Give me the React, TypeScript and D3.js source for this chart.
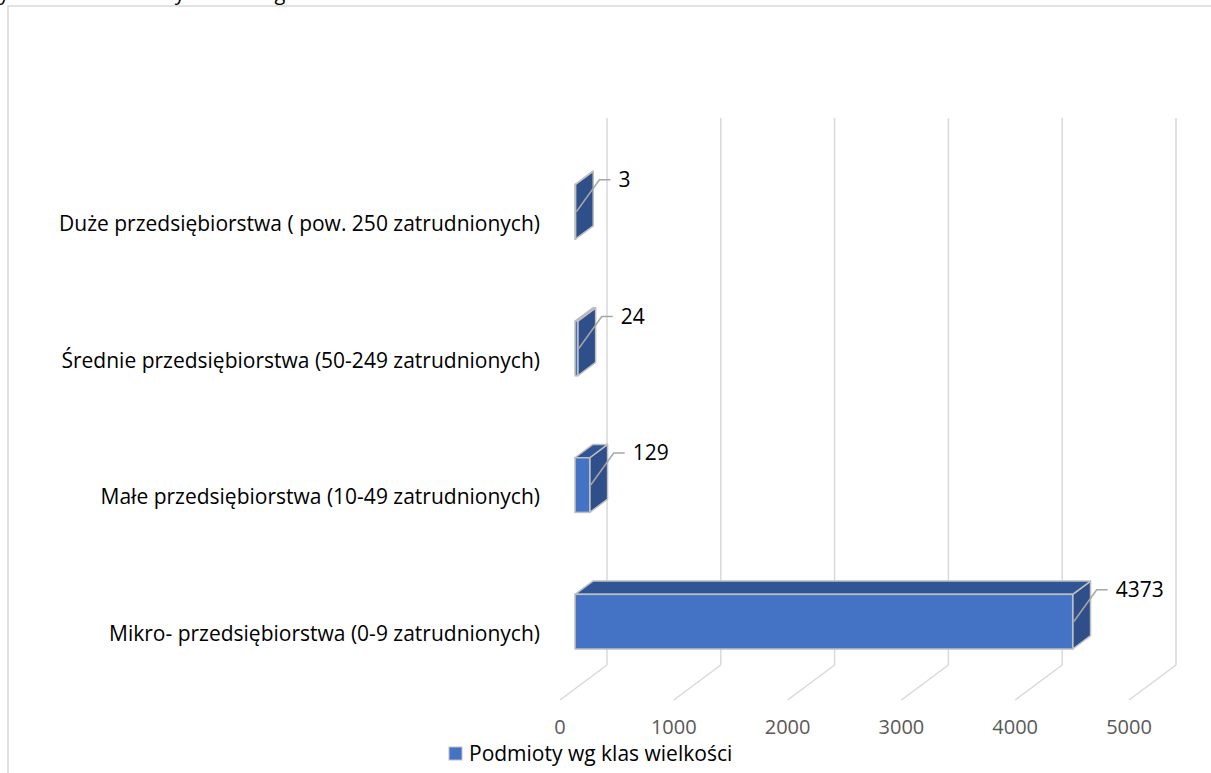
import * as d3 from "d3";

const categories = [
  "Duże przedsiębiorstwa ( pow. 250 zatrudnionych)",
  "Średnie przedsiębiorstwa (50-249 zatrudnionych)",
  "Małe przedsiębiorstwa (10-49 zatrudnionych)",
  "Mikro- przedsiębiorstwa (0-9 zatrudnionych)",
];
const values = [3, 24, 129, 4373];
const ticks = [0, 1000, 2000, 3000, 4000, 5000];
const seriesName = "Podmioty wg klas wielkości";
const title = "Podmioty w mieście i okolicy w roku wg klas wielkości";

const W = 1211;
const H = 773;
const wallTop = 118;
const wallBottom = 665;
// full floor depth projection
const DX = 47;
const DY = 35;
// bar depth, 0 = back wall, 1 = front of floor
const dFront = 0.68;
const dBack = 0.3;
const font = "'Open Sans', sans-serif";
const fs = 21;

export default function App() {
  const x = d3.scaleLinear().domain([0, 5000]).range([607, 1176]);
  const y = d3
    .scaleBand()
    .domain(categories)
    .range([wallTop + 25.5, wallBottom + 25]);

  const fx = DX * dFront;
  const ddx = DX * (dFront - dBack);
  const ddy = DY * (dFront - dBack);
  const barH = y.bandwidth() * 0.4;

  return (
    <div style={{ position: "fixed", left: 0, top: 0 }}>
      <svg width={W} height={H} style={{ display: "block", background: "#fff" }}>
        <text x={-80} y={0} fontFamily={font} fontSize={20} fill="#000">
          {title}
        </text>
        <rect x={8} y={6} width={1300} height={900} fill="none" stroke="#d9d9d9" strokeWidth={1.5} />

        {/* back wall gridlines + floor */}
        {ticks.map((t) => (
          <g key={t}>
            <line x1={x(t)} x2={x(t)} y1={wallTop} y2={wallBottom} stroke="#d9d9d9" strokeWidth={1.5} />
            <line
              x1={x(t)}
              y1={wallBottom}
              x2={x(t) - DX}
              y2={wallBottom + DY}
              stroke="#d9d9d9"
              strokeWidth={1.5}
            />
            <text
              x={x(t) - DX}
              y={734}
              textAnchor="middle"
              fontFamily={font}
              fontSize={20}
              fill="#595959"
            >
              {t}
            </text>
          </g>
        ))}

        {/* bars */}
        {categories.map((c, i) => {
          const yc = (y(c) ?? 0) + y.bandwidth() / 2;
          const x0 = x(0) - fx;
          const x1 = x(values[i]) - fx;
          const yt = yc - barH / 2;
          const yb = yc + barH / 2;
          const top = [
            [x0, yt],
            [x1, yt],
            [x1 + ddx, yt - ddy],
            [x0 + ddx, yt - ddy],
          ];
          const side = [
            [x1, yt],
            [x1 + ddx, yt - ddy],
            [x1 + ddx, yb - ddy],
            [x1, yb],
          ];
          const pts = (p: number[][]) => p.map((d) => d.join(",")).join(" ");
          const lx = x1 + 1;
          const ex = x1 + 24;
          const ey = yc - 32;
          return (
            <g key={c}>
              <polygon points={pts(side)} fill="#2f4f8a" stroke="#bfbfbf" strokeWidth={1.5} strokeLinejoin="round" />
              <polygon points={pts(top)} fill="#2f5597" stroke="#bfbfbf" strokeWidth={1.5} strokeLinejoin="round" />
              <rect
                x={x0}
                y={yt}
                width={Math.max(x1 - x0, 0.5)}
                height={barH}
                fill="#4472c4"
                stroke="#bfbfbf"
                strokeWidth={1.5}
              />
              <polyline
                points={`${lx},${yc} ${ex},${ey} ${ex + 11},${ey}`}
                fill="none"
                stroke="#a6a6a6"
                strokeWidth={1.5}
              />
              <text x={ex + 19} y={ey} dy="0.35em" fontFamily={font} fontSize={fs} fill="#000">
                {values[i]}
              </text>
              <text
                x={540}
                y={yc + 12}
                dy="0.35em"
                textAnchor="end"
                fontFamily={font}
                fontSize={fs}
                fill="#000"
              >
                {c}
              </text>
            </g>
          );
        })}

        {/* legend */}
        <rect x={449} y={747} width={13} height={13} fill="#4472c4" stroke="#bfbfbf" strokeWidth={1} />
        <text x={469} y={761} fontFamily={font} fontSize={fs} fill="#000">
          {seriesName}
        </text>
      </svg>
    </div>
  );
}
